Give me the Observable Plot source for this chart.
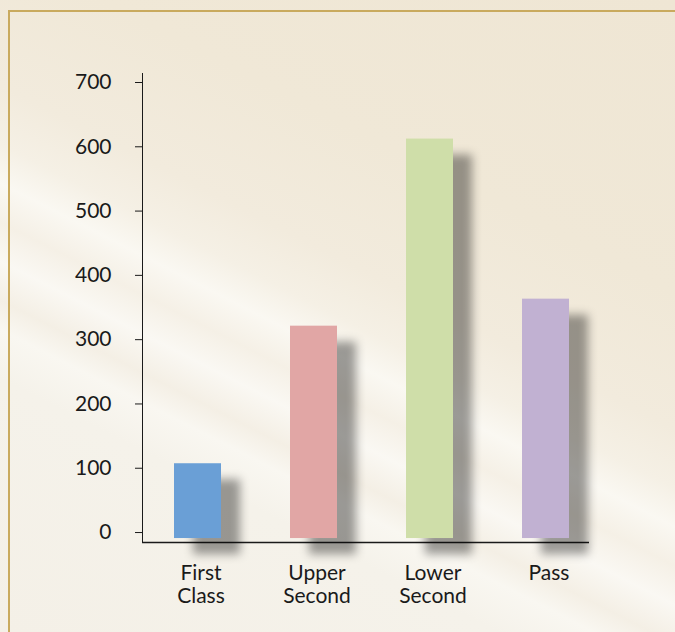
<!DOCTYPE html>
<html>
<head>
<meta charset="utf-8">
<script src="https://cdn.jsdelivr.net/npm/d3@7"></script>
<script src="https://cdn.jsdelivr.net/npm/@observablehq/plot@0.6"></script>
<style>
  html, body { margin: 0; padding: 0; overflow: hidden; }
  #wrap {
    position: relative;
    width: 675px; height: 632px; overflow: hidden;
    background:
      linear-gradient(27deg,
        #f4f0e7 0%, #f5f2ea 26%, #f9f7f1 31%, #f4efe5 34%, #faf8f3 38%,
        #f5f0e6 42%, #faf8f2 46%, #f5f0e5 50%, #f2ebdd 56%, #f0e8d7 70%, #efe6d4 100%);
  }
  #frame {
    position: absolute; left: 8px; top: 10px; width: 667px; height: 622px;
    box-sizing: border-box;
    border-top: 2px solid #c9aa5e; border-left: 2px solid #c9aa5e;
    pointer-events: none;
  }
  #chart { position: absolute; left: 0; top: 0; }
</style>
</head>
<body>
<div id="wrap"><div id="chart"></div><div id="frame"></div></div>
<script>
const categories = ["First Class", "Upper Second", "Lower Second", "Pass"];
const labels = ["First\nClass", "Upper\nSecond", "Lower\nSecond", "Pass"];
const values = [107, 321, 612, 363];
const colors = ["#6a9fd6", "#e1a6a5", "#cfdea9", "#c1b1d2"];
const yTicks = [0, 100, 200, 300, 400, 500, 600, 700];

const data = categories.map((c, i) => ({category: c, value: values[i], label: labels[i], color: colors[i]}));

const chart = Plot.plot({
  width: 675,
  height: 632,
  marginLeft: 142,
  marginRight: 86,
  marginTop: 73,
  marginBottom: 90,
  style: {fontFamily: "Lato, 'Open Sans', sans-serif", fontSize: "21px", background: "transparent", color: "#1a1a1a"},
  x: {domain: categories, paddingInner: 0.595, paddingOuter: 0.224, align: 0.615, axis: null},
  y: {domain: [-15.5, 714], ticks: yTicks, tickSize: 7, tickPadding: 24, line: true, label: null},
  marks: [
    Plot.ruleY([-15.5], {stroke: "#1a1a1a", strokeWidth: 1.5}),
    Plot.barY(data, {x: "category", y: "value", fill: "color", insetBottom: -6}),
    Plot.text(data, {x: "category", text: "label", frameAnchor: "bottom", lineAnchor: "top", dy: 21, dx: 3, lineHeight: 1.1, fontSize: 21, fill: "#1a1a1a"})
  ]
});

d3.select(chart).selectAll("g[aria-label='bar']")
  .style("filter", "drop-shadow(19px 16px 5px rgba(0,0,0,0.38))");
d3.select(chart).selectAll("g[aria-label='y-axis'] path, g[aria-label='y-axis'] line").attr("stroke", "#444");

document.getElementById("chart").appendChild(chart);
</script>
</body>
</html>
